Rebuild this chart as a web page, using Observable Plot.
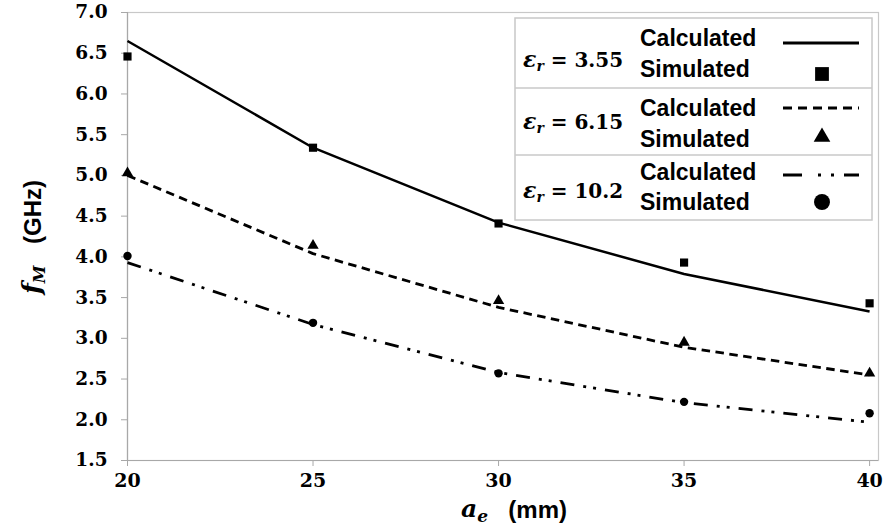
<!DOCTYPE html>
<html><head><meta charset="utf-8">
<script src="https://cdn.jsdelivr.net/npm/d3@7"></script>
<script src="https://cdn.jsdelivr.net/npm/@observablehq/plot@0.6"></script>
<style>
body{margin:0;background:#fff;}
#wrap{position:relative;width:885px;height:530px;overflow:hidden;}
#overlay{position:absolute;left:0;top:0;pointer-events:none;}
.m{font-family:"DejaVu Serif",serif;font-weight:bold;}
.s{font-family:"Liberation Sans",Arial,sans-serif;font-weight:bold;}
</style></head><body><div id="wrap"></div>
<script>
// ---- data ----
const aE = [20, 25, 30, 35, 40];
const calc355 = [6.65, 5.34, 4.42, 3.79, 3.33];
const sim355  = [6.46, 5.34, 4.41, 3.93, 3.43];
const calc615 = [5.00, 4.04, 3.38, 2.89, 2.55];
const sim615  = [5.03, 4.14, 3.46, 2.95, 2.57];
const calc102 = [3.93, 3.17, 2.58, 2.21, 1.97];
const sim102  = [4.01, 3.19, 2.57, 2.22, 2.08];
const epsLabels = ["3.55", "6.15", "10.2"];
const xTicks = [20, 25, 30, 35, 40];
const yTicks = [1.5, 2.0, 2.5, 3.0, 3.5, 4.0, 4.5, 5.0, 5.5, 6.0, 6.5, 7.0];

const series = [
  {calc: calc355, sim: sim355, dash: null, symbol: "square", r: 4.6},
  {calc: calc615, sim: sim615, dash: "8.5,5.5", symbol: "triangle", r: 4.2},
  {calc: calc102, sim: sim102, dash: "14,9,3,7,3,9", symbol: "circle", r: 4.2}
];

const marks = [
  Plot.frame({stroke: "#c8c8c8", strokeWidth: 1.2}),
  Plot.axisY({ticks: yTicks, tickFormat: d => d.toFixed(1), tickSize: 6, tickPadding: 14,
    stroke: "#a8a8a8", fill: "black", fontSize: 18.5, fontFamily: "DejaVu Serif", fontWeight: "bold", label: null}),
  Plot.axisX({ticks: xTicks, tickFormat: d => String(d), tickSize: 6, tickPadding: 7,
    stroke: "#a8a8a8", fill: "black", fontSize: 19, fontFamily: "DejaVu Serif", fontWeight: "bold", label: null}),
  Plot.ruleX([20], {stroke: "#a8a8a8", strokeWidth: 1.2}),
  Plot.ruleY([1.5], {stroke: "#a8a8a8", strokeWidth: 1.2})
];
series.forEach(s => {
  const lineData = aE.map((x, i) => ({x, y: s.calc[i]}));
  const ptData = aE.map((x, i) => ({x, y: s.sim[i]}));
  marks.push(Plot.line(lineData, {x: "x", y: "y", curve: "linear", stroke: "black",
    strokeWidth: s.dash ? 2.8 : 2.5, strokeDasharray: s.dash || undefined, strokeLinecap: "butt", strokeLinejoin: "round"}));
  marks.push(Plot.dot(ptData, {x: "x", y: "y", symbol: () => s.symbol, fill: "black", stroke: "none", r: s.r}));
});

const chart = Plot.plot({
  width: 885, height: 530,
  marginLeft: 127, marginRight: 7, marginTop: 12, marginBottom: 70,
  x: {domain: [20, 40.24]},
  y: {domain: [1.5, 7.0]},
  style: {background: "white", overflow: "visible"},
  marks
});
const wrap = document.getElementById("wrap");
wrap.appendChild(chart);

// ---- overlay: axis titles and legend ----
const ov = d3.select(wrap).append("svg").attr("id", "overlay").attr("width", 885).attr("height", 530);

// x title
const xt = ov.append("text").attr("x", 461).attr("y", 517).attr("text-anchor", "start");
xt.append("tspan").attr("class", "m").attr("font-style", "italic").attr("font-size", 25).text("a");
xt.append("tspan").attr("class", "m").attr("font-style", "italic").attr("font-size", 17).attr("dy", 5).text("e");
ov.append("text").attr("x", 567).attr("y", 518).attr("text-anchor", "end").attr("class", "s").attr("font-size", 24).text("(mm)");

// y title
const yt = ov.append("text").attr("transform", "translate(40,294) rotate(-90)").attr("text-anchor", "start");
yt.append("tspan").attr("class", "m").attr("font-style", "italic").attr("font-size", 25).text("f");
yt.append("tspan").attr("class", "m").attr("font-style", "italic").attr("font-size", 16).attr("dy", 5).text("M");
ov.append("text").attr("transform", "translate(41,244) rotate(-90)").attr("text-anchor", "start")
  .attr("class", "s").attr("font-size", 24).text("(GHz)");

// legend
const lg = ov.append("g");
lg.append("rect").attr("x", 515).attr("y", 18).attr("width", 357).attr("height", 202)
  .attr("fill", "white").attr("stroke", "#c8c8c8").attr("stroke-width", 1.5);
[88, 155].forEach(y => lg.append("line").attr("x1", 515).attr("x2", 872).attr("y1", y).attr("y2", y)
  .attr("stroke", "#c8c8c8").attr("stroke-width", 1.5));
const epsBase = [67, 129, 198];
const calcBase = [46, 116, 180];
const simBase = [77, 147, 210];
const sampleY = [43, 108, 175];
const markY = [74, 137, 202];
series.forEach((s, i) => {
  const t = lg.append("text").attr("x", 523).attr("y", epsBase[i]).attr("class", "m").attr("font-size", 20);
  t.append("tspan").attr("font-style", "italic").attr("font-size", 22).text("\u03b5");
  t.append("tspan").attr("font-style", "italic").attr("font-size", 14).attr("dy", 4).text("r");
  t.append("tspan").attr("dy", -4).text(" = " + epsLabels[i]);
  lg.append("text").attr("x", 640).attr("y", calcBase[i]).attr("class", "s").attr("font-size", 23).text("Calculated");
  lg.append("text").attr("x", 640).attr("y", simBase[i]).attr("class", "s").attr("font-size", 23).text("Simulated");
  lg.append("line").attr("x1", 783).attr("x2", 859).attr("y1", sampleY[i]).attr("y2", sampleY[i])
    .attr("stroke", "black").attr("stroke-width", 2.8)
    .attr("stroke-dasharray", i === 0 ? null : (i === 1 ? "9,6" : "19,16,3,10,3,10"));
  const sym = s.symbol === "square" ? d3.symbolSquare : s.symbol === "triangle" ? d3.symbolTriangle : d3.symbolCircle;
  const size = s.symbol === "square" ? 190 : s.symbol === "triangle" ? 120 : 200;
  lg.append("path").attr("d", d3.symbol(sym, size)()).attr("transform", `translate(822,${markY[i]})`).attr("fill", "black");
});
</script></body></html>
